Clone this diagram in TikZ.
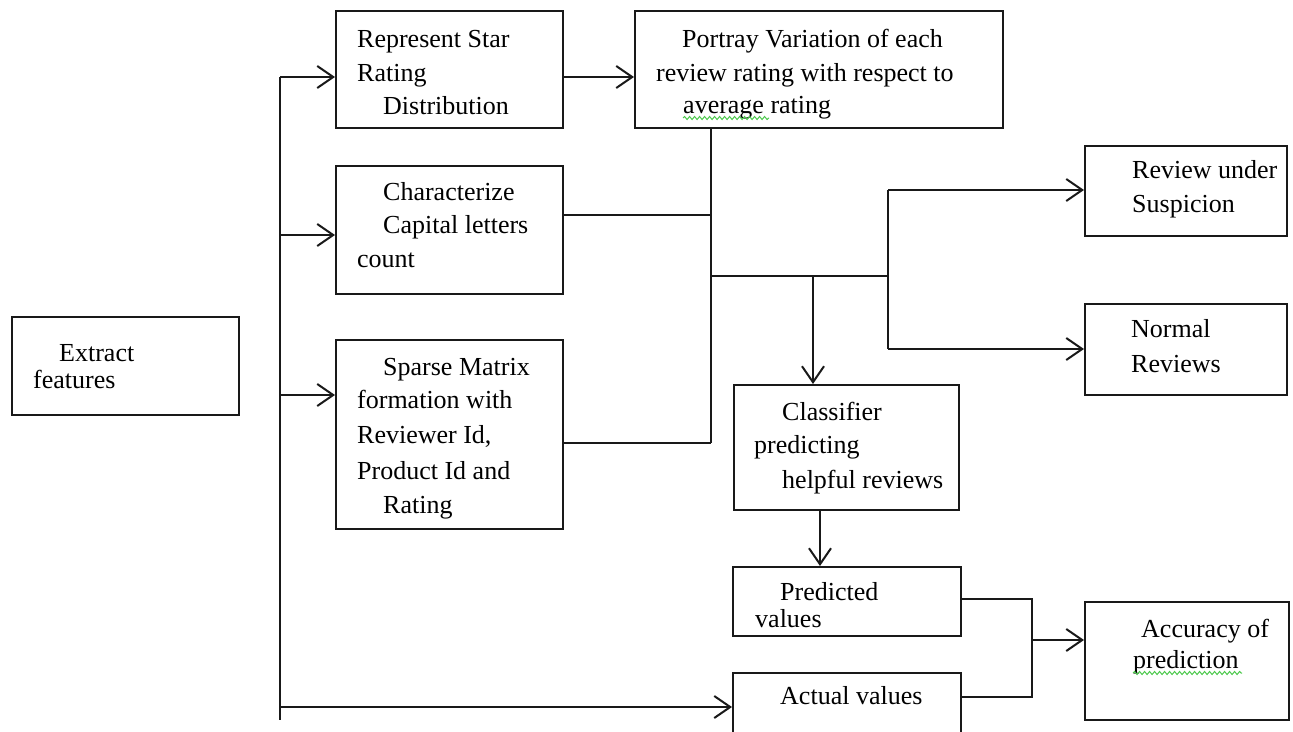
\documentclass[tikz,border=0pt]{standalone}
\usepackage{fontspec}
\setmainfont{Liberation Serif}
\usetikzlibrary{arrows.meta,decorations.pathmorphing}
\begin{document}
\begin{tikzpicture}[x=1pt,y=-1pt,
  box/.style={draw=black!90, line width=2pt, inner sep=0pt, anchor=north west},
  txt/.style={anchor=base west, inner sep=0pt, font=\fontsize{26}{34}\selectfont},
  link/.style={draw=black!90, line width=2pt},
  arr/.style={link, -{Straight Barb[length=16pt,width=22pt]}},
  wavy/.style={draw=green!70!black!70, line width=1pt, decorate,
    decoration={snake,segment length=5pt,amplitude=1.5pt}}]
\useasboundingbox (0,0) rectangle (1293,731);

% boxes
\node[box, minimum width=227pt, minimum height=98pt]  (extract)    at (11,316)  {};
\node[box, minimum width=227pt, minimum height=117pt] (star)       at (335,10)  {};
\node[box, minimum width=368pt, minimum height=117pt] (portray)    at (634,10)  {};
\node[box, minimum width=227pt, minimum height=128pt] (char)       at (335,165) {};
\node[box, minimum width=227pt, minimum height=189pt] (sparse)     at (335,339) {};
\node[box, minimum width=202pt, minimum height=90pt]  (susp)       at (1084,145) {};
\node[box, minimum width=202pt, minimum height=91pt]  (normal)     at (1084,303) {};
\node[box, minimum width=225pt, minimum height=125pt] (classifier) at (733,384) {};
\node[box, minimum width=228pt, minimum height=69pt]  (predicted)  at (732,566) {};
\node[box, minimum width=228pt, minimum height=75pt]  (actual)     at (732,672) {};
\node[box, minimum width=204pt, minimum height=118pt] (accuracy)   at (1084,601) {};

% texts
\node[txt] (t-ex1) at (59,361) {Extract};
\node[txt] (t-ex2) at (33,388) {features};
\node[txt] (t-st1) at (357,47) {Represent Star};
\node[txt] (t-st2) at (357,81) {Rating};
\node[txt] (t-st3) at (383,114) {Distribution};
\node[txt] (t-po1) at (682,47) {Portray Variation of each};
\node[txt] (t-po2) at (656,81) {review rating with respect to};
\node[txt] (t-po3) at (683,113) {average rating};
\node[txt] (t-ch1) at (383,200) {Characterize};
\node[txt] (t-ch2) at (383,233) {Capital letters};
\node[txt] (t-ch3) at (357,267) {count};
\node[txt] (t-sp1) at (383,375) {Sparse Matrix};
\node[txt] (t-sp2) at (357,408) {formation with};
\node[txt] (t-sp3) at (357,443) {Reviewer Id,};
\node[txt] (t-sp4) at (357,479) {Product Id and};
\node[txt] (t-sp5) at (383,513) {Rating};
\node[txt] (t-su1) at (1132,178) {Review under};
\node[txt] (t-su2) at (1132,212) {Suspicion};
\node[txt] (t-no1) at (1131,337) {Normal};
\node[txt] (t-no2) at (1131,372) {Reviews};
\node[txt] (t-cl1) at (782,420) {Classifier};
\node[txt] (t-cl2) at (754,453) {predicting};
\node[txt] (t-cl3) at (782,488) {helpful reviews};
\node[txt] (t-pr1) at (780,600) {Predicted};
\node[txt] (t-pr2) at (755,627) {values};
\node[txt] (t-ac1) at (780,704) {Actual values};
\node[txt] (t-au1) at (1141,637) {Accuracy of};
\node[txt] (t-au2) at (1133,668) {prediction};

% spell-check underlines
\draw[wavy] (683,118) -- (769,118);
\draw[wavy] (1133,673) -- (1242,673);

% left spine
\coordinate (s1) at (280,77);
\coordinate (s2) at (280,235);
\coordinate (s3) at (280,395);
\coordinate (s4) at (280,707);
\coordinate (sb) at (280,720);
\draw[link] (s1) -- (sb);
\draw[arr] (s1) -- (s1 -| star.west);
\draw[arr] (s2) -- (s2 -| char.west);
\draw[arr] (s3) -- (s3 -| sparse.west);
\draw[arr] (s4) -- (s4 -| actual.west);

% star -> portray
\draw[arr] (star.east |- s1) -- (portray.west |- s1);

% merge
\coordinate (mx) at (711,443);
\coordinate (cy) at (711,215);
\coordinate (hj) at (711,276);
\coordinate (bx) at (888,276);
\coordinate (bt) at (888,190);
\coordinate (bb) at (888,349);
\coordinate (dn) at (813,276);
\coordinate (cp) at (820,0);
\draw[link] (portray.south -| mx) -- (mx);
\draw[link] (sparse.east |- mx) -- (mx);
\draw[link] (char.east |- cy) -- (cy);
\draw[link] (hj) -- (bx);
\draw[link] (bt) -- (bb);
\draw[arr] (bt) -- (bt -| susp.west);
\draw[arr] (bb) -- (bb -| normal.west);
\draw[arr] (dn) -- (dn |- classifier.north);
\draw[arr] (classifier.south -| cp) -- (predicted.north -| cp);

% predicted / actual -> accuracy
\coordinate (py) at (1032,599);
\coordinate (ay) at (1032,697);
\coordinate (acc) at (1032,640);
\draw[link] (predicted.east |- py) -- (py) -- (ay) -- (actual.east |- ay);
\draw[arr] (acc) -- (acc -| accuracy.west);
\end{tikzpicture}
\end{document}
